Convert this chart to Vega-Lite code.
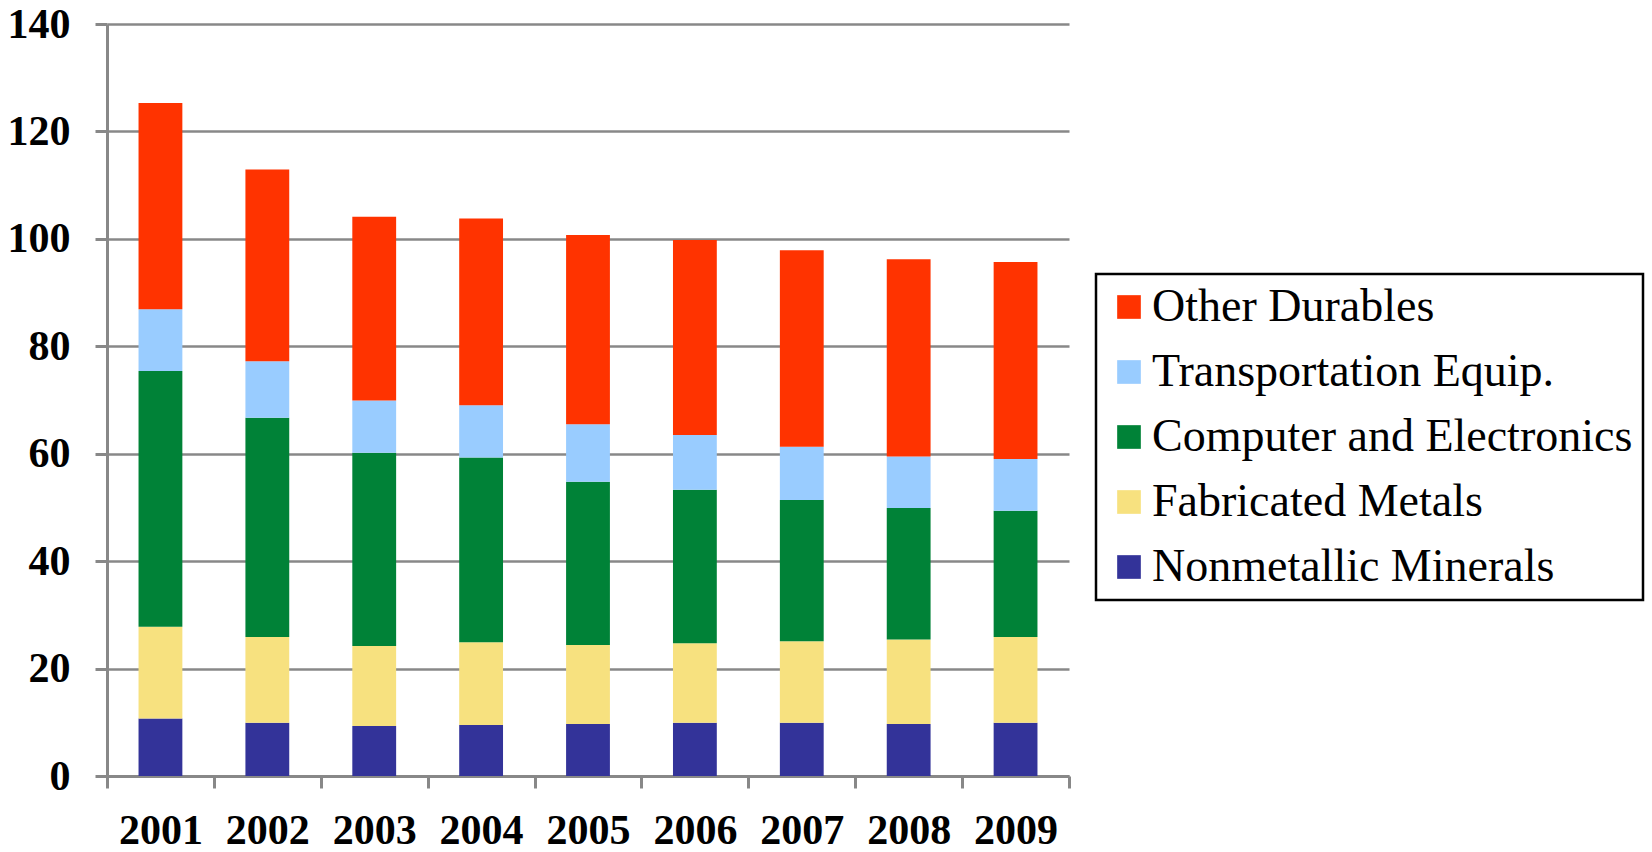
{
  "$schema": "https://vega.github.io/schema/vega-lite/v6.json",
  "autosize": {"type": "none"},
  "padding": {"left": 107, "top": 24, "right": 583, "bottom": 76},
  "width": 962,
  "height": 752,
  "background": "white",
  "config": {"view": {"stroke": null}},
  "data": {"values": [
    {"year": "2001", "series": "Nonmetallic Minerals", "value": 10.7},
    {"year": "2001", "series": "Fabricated Metals", "value": 17.1},
    {"year": "2001", "series": "Computer and Electronics", "value": 47.6},
    {"year": "2001", "series": "Transportation Equip.", "value": 11.5},
    {"year": "2001", "series": "Other Durables", "value": 38.4},
    {"year": "2002", "series": "Nonmetallic Minerals", "value": 9.9},
    {"year": "2002", "series": "Fabricated Metals", "value": 16.0},
    {"year": "2002", "series": "Computer and Electronics", "value": 40.8},
    {"year": "2002", "series": "Transportation Equip.", "value": 10.5},
    {"year": "2002", "series": "Other Durables", "value": 35.7},
    {"year": "2003", "series": "Nonmetallic Minerals", "value": 9.3},
    {"year": "2003", "series": "Fabricated Metals", "value": 14.9},
    {"year": "2003", "series": "Computer and Electronics", "value": 36.0},
    {"year": "2003", "series": "Transportation Equip.", "value": 9.7},
    {"year": "2003", "series": "Other Durables", "value": 34.2},
    {"year": "2004", "series": "Nonmetallic Minerals", "value": 9.5},
    {"year": "2004", "series": "Fabricated Metals", "value": 15.4},
    {"year": "2004", "series": "Computer and Electronics", "value": 34.4},
    {"year": "2004", "series": "Transportation Equip.", "value": 9.7},
    {"year": "2004", "series": "Other Durables", "value": 34.8},
    {"year": "2005", "series": "Nonmetallic Minerals", "value": 9.7},
    {"year": "2005", "series": "Fabricated Metals", "value": 14.7},
    {"year": "2005", "series": "Computer and Electronics", "value": 30.4},
    {"year": "2005", "series": "Transportation Equip.", "value": 10.7},
    {"year": "2005", "series": "Other Durables", "value": 35.2},
    {"year": "2006", "series": "Nonmetallic Minerals", "value": 9.9},
    {"year": "2006", "series": "Fabricated Metals", "value": 14.8},
    {"year": "2006", "series": "Computer and Electronics", "value": 28.6},
    {"year": "2006", "series": "Transportation Equip.", "value": 10.2},
    {"year": "2006", "series": "Other Durables", "value": 36.3},
    {"year": "2007", "series": "Nonmetallic Minerals", "value": 9.9},
    {"year": "2007", "series": "Fabricated Metals", "value": 15.2},
    {"year": "2007", "series": "Computer and Electronics", "value": 26.3},
    {"year": "2007", "series": "Transportation Equip.", "value": 9.9},
    {"year": "2007", "series": "Other Durables", "value": 36.6},
    {"year": "2008", "series": "Nonmetallic Minerals", "value": 9.7},
    {"year": "2008", "series": "Fabricated Metals", "value": 15.7},
    {"year": "2008", "series": "Computer and Electronics", "value": 24.5},
    {"year": "2008", "series": "Transportation Equip.", "value": 9.6},
    {"year": "2008", "series": "Other Durables", "value": 36.7},
    {"year": "2009", "series": "Nonmetallic Minerals", "value": 9.9},
    {"year": "2009", "series": "Fabricated Metals", "value": 16.0},
    {"year": "2009", "series": "Computer and Electronics", "value": 23.5},
    {"year": "2009", "series": "Transportation Equip.", "value": 9.6},
    {"year": "2009", "series": "Other Durables", "value": 36.7}
  ]},
  "transform": [
    {"calculate": "indexof(['Nonmetallic Minerals','Fabricated Metals','Computer and Electronics','Transportation Equip.','Other Durables'], datum.series)", "as": "stackOrder"}
  ],
  "mark": {"type": "bar", "width": {"band": 0.41}},
  "encoding": {
    "x": {
      "field": "year", "type": "ordinal", "title": null,
      "scale": {"paddingInner": 0, "paddingOuter": 0},
      "axis": {
        "labelAngle": 0, "labelFont": "Liberation Serif", "labelFontWeight": "bold",
        "labelFontSize": 42, "labelColor": "black", "labelPadding": 22,
        "domainColor": "#888888", "domainWidth": 3,
        "tickColor": "#888888", "tickWidth": 3, "tickSize": 12, "tickBand": "extent",
        "grid": false
      }
    },
    "y": {
      "field": "value", "type": "quantitative", "aggregate": "sum", "stack": "zero", "title": null,
      "scale": {"domain": [0, 140], "nice": false},
      "axis": {
        "values": [0, 20, 40, 60, 80, 100, 120, 140],
        "labelFont": "Liberation Serif", "labelFontWeight": "bold",
        "labelFontSize": 42, "labelColor": "black", "labelPadding": 25,
        "domainColor": "#888888", "domainWidth": 3,
        "tickColor": "#888888", "tickWidth": 3, "tickSize": 12,
        "grid": true, "gridColor": "#888888", "gridWidth": 2.5, "gridOpacity": 1
      }
    },
    "color": {
      "field": "series", "type": "nominal", "title": null,
      "scale": {
        "domain": ["Other Durables", "Transportation Equip.", "Computer and Electronics", "Fabricated Metals", "Nonmetallic Minerals"],
        "range": ["#FF3300", "#99CCFF", "#008237", "#F7E17F", "#333399"]
      },
      "legend": {
        "orient": "none", "legendX": 989, "legendY": 250,
        "symbolType": "square", "symbolSize": 560, "symbolStrokeWidth": 0, "symbolOpacity": 1,
        "labelFont": "Liberation Serif", "labelFontSize": 46, "labelColor": "black",
        "labelOffset": 0, "labelLimit": 800,
        "rowPadding": 19, "padding": 10,
        "strokeColor": "black",
        "encode": {"legend": {"update": {"stroke": {"value": "black"}, "strokeWidth": {"value": 2.5}}}}
      }
    },
    "order": {"field": "stackOrder", "type": "quantitative", "sort": "ascending"}
  }
}
